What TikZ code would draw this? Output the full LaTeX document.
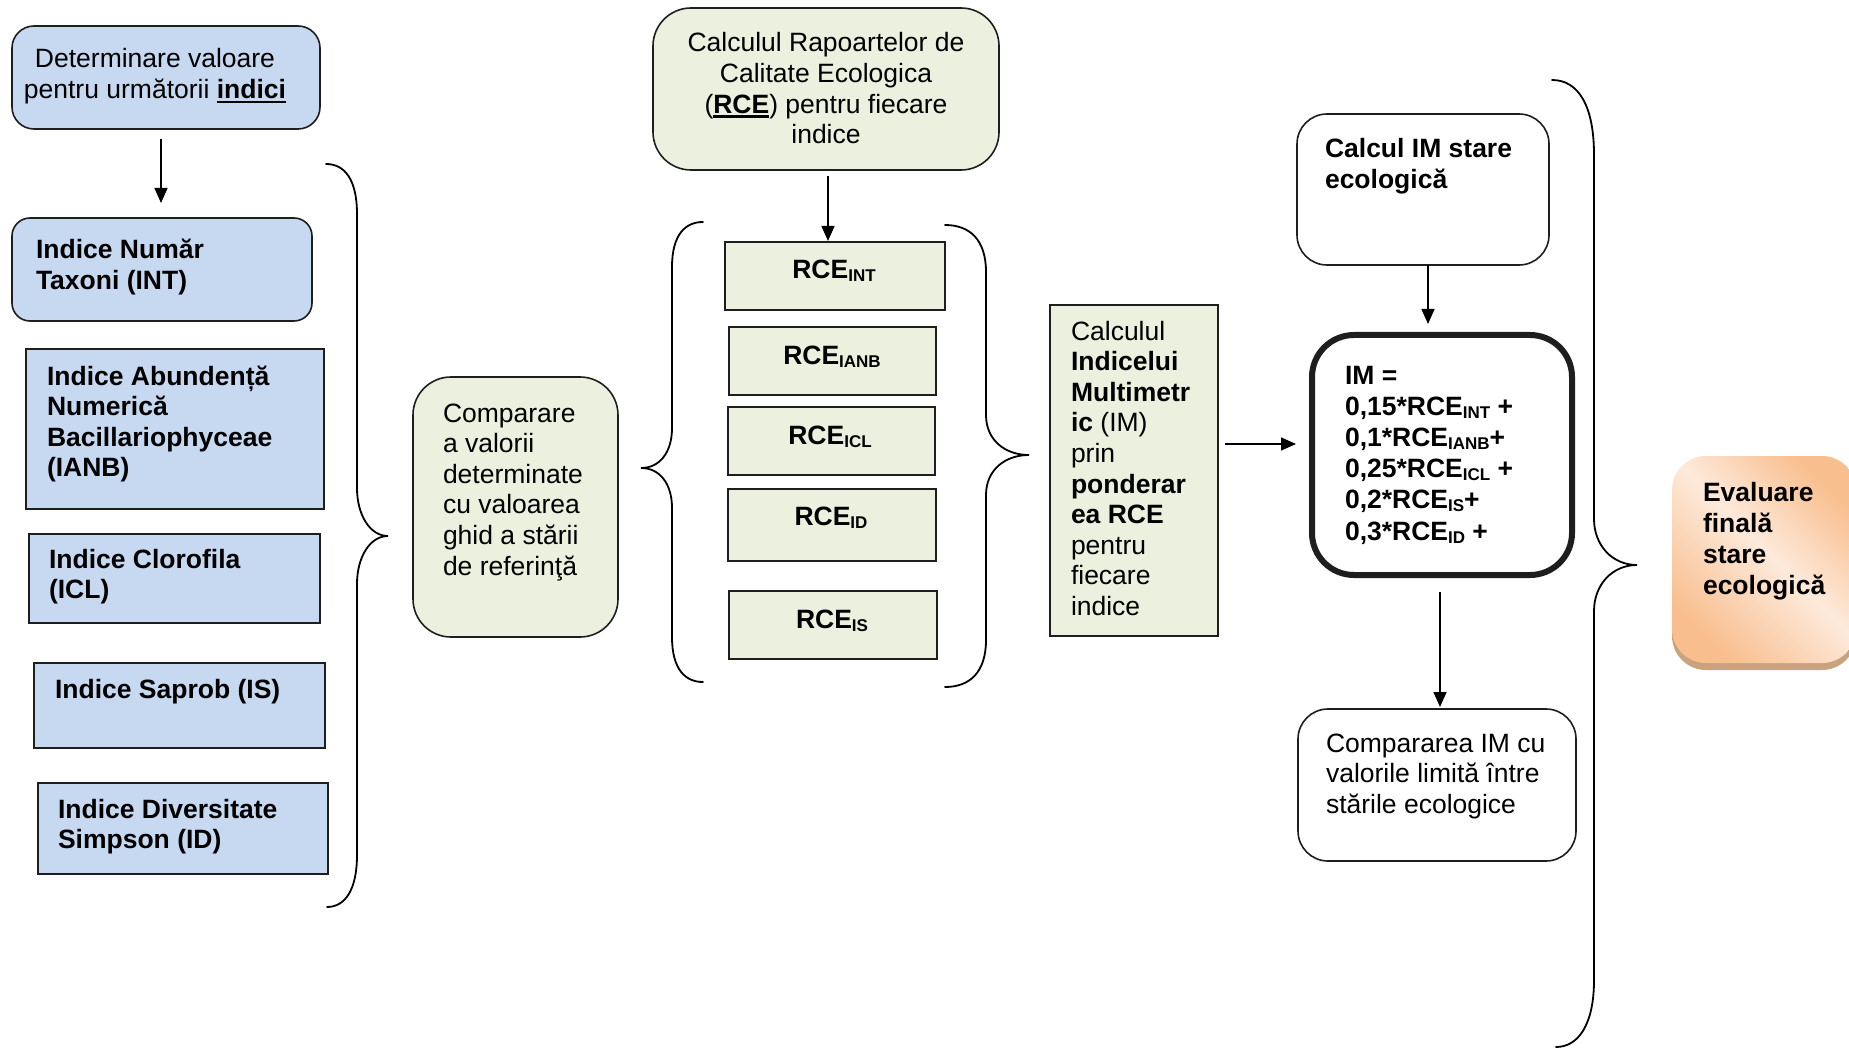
\documentclass[tikz,border=0pt]{standalone}
\usepackage{fontspec}
\setmainfont{Liberation Sans}
\usetikzlibrary{arrows.meta,calc}
\definecolor{bluef}{HTML}{C6D9F1}
\definecolor{greenf}{HTML}{EBF1DE}
\definecolor{edgec}{HTML}{1E1E1E}
\definecolor{ordark}{HTML}{F9BE8E}
\definecolor{orlight}{HTML}{FDEADB}
\definecolor{shadowc}{HTML}{C9A27E}
\pgfdeclarehorizontalshading{evalshade}{100bp}{color(0bp)=(ordark); color(25bp)=(ordark); color(52bp)=(orlight); color(75bp)=(ordark); color(100bp)=(ordark)}
\newcommand{\fsz}{\fontsize{26.5}{30.6}\selectfont}
\newcommand{\fszw}{\fontsize{26.5}{31.2}\selectfont}
\newcommand{\strt}{\rule{0pt}{21pt}}
\newcommand{\subx}[1]{\raisebox{-3pt}{\fontsize{17}{17}\selectfont #1}}
\newcommand{\ulx}[1]{\setbox0\hbox{#1}\rlap{\rule[-4.5pt]{\wd0}{2.2pt}}\box0}
\tikzset{
 boxbase/.style={draw=edgec, line width=1.6pt, inner sep=0pt, outer sep=0pt},
 bluebox/.style={boxbase, fill=bluef},
 greenbox/.style={boxbase, fill=greenf},
 whitebox/.style={boxbase, fill=white},
 sz/.style 2 args={minimum width=#1, minimum height=#2},
 txt/.style={inner sep=0pt, outer sep=0pt, anchor=north west, align=left, font=\fsz},
 ctxt/.style={txt, anchor=north, align=center},
 arr/.style={line width=1.4pt, -{Triangle[length=15pt,width=13pt]}},
 brace/.style={line width=1.8pt, line cap=round},
}
\begin{document}
\begin{tikzpicture}[x=1pt,y=-1pt]
\useasboundingbox (0,0) rectangle (1849,1048);
\fill[white] (0,0) rectangle (1849,1048);
\clip (0,0) rectangle (1849,1048);

% left column
\node[bluebox, rounded corners=22pt, sz={308pt}{103pt}] (det) at (166,77.5) {};
\node[ctxt] (tdet) at (155,47) {\strt Determinare valoare\\pentru următorii \ulx{\textbf{indici}}};
\node[bluebox, rounded corners=18pt, sz={300pt}{103pt}] (int) at (162,269.5) {};
\node[txt] (tint) at (36,238) {\strt\textbf{Indice Număr}\\\textbf{Taxoni (INT)}};
\node[bluebox, sz={298pt}{160pt}] (ianb) at (175,429) {};
\node[txt] (tianb) at (47,364) {\strt\textbf{Indice Abundență}\\\textbf{Numerică}\\\textbf{Bacillariophyceae}\\\textbf{(IANB)}};
\node[bluebox, sz={291pt}{89pt}] (icl) at (174.5,578.5) {};
\node[txt] (ticl) at (49,547) {\strt\textbf{Indice Clorofila}\\\textbf{(ICL)}};
\node[bluebox, sz={291pt}{85pt}] (is) at (179.5,705.5) {};
\node[txt] (tis) at (55,677) {\strt\textbf{Indice Saprob (IS)}};
\node[bluebox, sz={290pt}{91pt}] (id) at (183,828.5) {};
\node[txt] (tid) at (58,797) {\strt\textbf{Indice Diversitate}\\\textbf{Simpson (ID)}};

\draw[arr] ($(det.south)+(-5,10)$) -- ($(int.north)+(-1,-15)$);

% brace 1
\draw[brace] (326,164) .. controls (345,164) and (357,180) .. (357,214) -- (357,488)
  .. controls (357,515) and (370,536) .. (388,536)
  .. controls (370,536) and (357,557) .. (357,584) -- (357,855)
  .. controls (357,890) and (345,907) .. (327,907);

% comparare
\node[greenbox, rounded corners=38pt, sz={205pt}{260pt}] (comp) at (515.5,507) {};
\node[txt] (tcomp) at (443,401) {\strt Comparare\\a valorii\\determinate\\cu valoarea\\ghid a stării\\de referinţă};

% brace 2
\draw[brace] (703,222) .. controls (685,222) and (672,235) .. (672,267) -- (672,428)
  .. controls (672,452) and (660,468) .. (641,468)
  .. controls (660,468) and (672,484) .. (672,508) -- (672,637)
  .. controls (672,669) and (685,682) .. (703,682);

% RCE column
\node[greenbox, rounded corners=38pt, sz={346pt}{162pt}] (rcetop) at (826,89) {};
\node[ctxt] (trcetop) at (826,31) {\strt Calculul Rapoartelor de\\Calitate Ecologica\\(\ulx{\textbf{RCE}}) pentru fiecare\\indice};
\node[greenbox, sz={220pt}{68pt}] (rint) at (835,276) {};
\node[ctxt] (trint) at (834,258) {\strt\textbf{RCE\subx{INT}}};
\node[greenbox, sz={207pt}{68pt}] (rianb) at (832.5,361) {};
\node[ctxt] (trianb) at (832,343) {\strt\textbf{RCE\subx{IANB}}};
\node[greenbox, sz={207pt}{68pt}] (ricl) at (831.5,441) {};
\node[ctxt] (tricl) at (830,423) {\strt\textbf{RCE\subx{ICL}}};
\node[greenbox, sz={208pt}{72pt}] (rid) at (832,525) {};
\node[ctxt] (trid) at (831,504) {\strt\textbf{RCE\subx{ID}}};
\node[greenbox, sz={208pt}{68pt}] (ris) at (833,625) {};
\node[ctxt] (tris) at (832,607) {\strt\textbf{RCE\subx{IS}}};

\draw[arr] ($(rcetop.south)+(2,6)$) -- ($(rint.north)+(-7,-1)$);

% brace 3
\draw[brace] (945,225) .. controls (970,225) and (986,240) .. (986,272) -- (986,415)
  .. controls (986,440) and (1005,455) .. (1029,455)
  .. controls (1005,455) and (986,470) .. (986,495) -- (986,640)
  .. controls (986,672) and (970,687) .. (945,687);

% calcul indicelui
\node[greenbox, sz={168pt}{331pt}] (calc) at (1134,470.5) {};
\node[txt] (tcalc) at (1071,319) {\strt Calculul\\\textbf{Indicelui}\\\textbf{Multimetr}\\\textbf{ic} (IM)\\prin\\\textbf{ponderar}\\\textbf{ea RCE}\\pentru\\fiecare\\indice};

% right part
\node[whitebox, rounded corners=30pt, sz={252pt}{151pt}] (imstare) at (1423,189.5) {};
\node[txt] (timstare) at (1325,137) {\strt\textbf{Calcul IM stare}\\\textbf{ecologică}};
\node[whitebox, line width=6pt, rounded corners=42pt, sz={260pt}{240pt}] (im) at (1442,455) {};
\node[txt, font=\fszw] (tim) at (1345,363) {\strt\textbf{IM =}\\\textbf{0,15*RCE\subx{INT} +}\\\textbf{0,1*RCE\subx{IANB}+}\\\textbf{0,25*RCE\subx{ICL} +}\\\textbf{0,2*RCE\subx{IS}+}\\\textbf{0,3*RCE\subx{ID} +}};
\node[whitebox, rounded corners=30pt, sz={278pt}{152pt}] (compim) at (1437,785) {};
\node[txt] (tcompim) at (1326,731) {\strt Compararea IM cu\\valorile limită între\\stările ecologice};

\draw[arr] ($(calc.east)+(7,-26.5)$) -- ($(im.west)+(-16,-11)$);
\draw[arr] ($(imstare.south)+(5,0)$) -- ($(im.north)+(-14,-11)$);
\draw[arr] ($(im.south)+(-2,17)$) -- ($(compim.north)+(3,-2)$);

% brace 4
\draw[brace] (1552,80) .. controls (1578,80) and (1594,105) .. (1594,155) -- (1594,519)
  .. controls (1594,545) and (1612,565) .. (1637,565)
  .. controls (1612,565) and (1594,585) .. (1594,611) -- (1594,980)
  .. controls (1594,1025) and (1578,1047) .. (1556,1047);

% final evaluation
\fill[shadowc, rounded corners=34pt] (1672,464) rectangle (1856,670);
\node[inner sep=0pt, outer sep=0pt, rounded corners=34pt, shading=evalshade, shading angle=45, sz={184pt}{207pt}] (eval) at (1764,559.5) {};
\node[txt, font=\fszw] (teval) at (1703,480) {\strt\textbf{Evaluare}\\\textbf{finală}\\\textbf{stare}\\\textbf{ecologică}};
\end{tikzpicture}
\end{document}
